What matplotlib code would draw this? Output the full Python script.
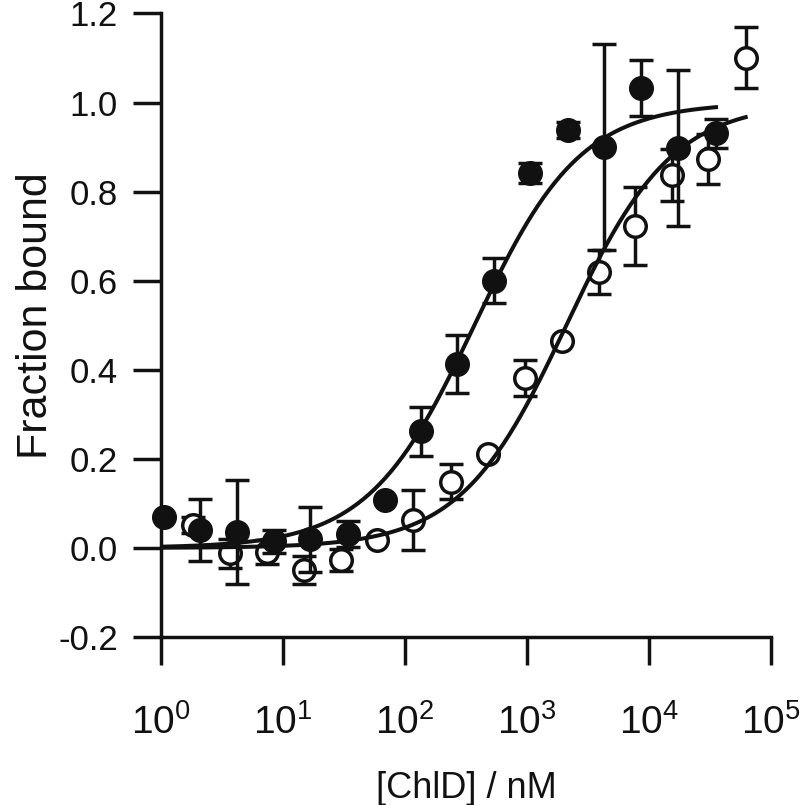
import matplotlib
matplotlib.use("Agg")
import matplotlib.pyplot as plt
from matplotlib.ticker import LogLocator, LogFormatterSciNotation, NullLocator
import numpy as np

# filled circles
conc_filled = [1.05, 2.1, 4.2, 8.4, 16.8, 34, 68.6, 134, 268, 540,
               1060, 2150, 4300, 8600, 17400, 35400]
frac_filled = [0.070, 0.040, 0.036, 0.015, 0.019, 0.031, 0.107, 0.262, 0.413, 0.600,
               0.842, 0.938, 0.900, 1.032, 0.898, 0.931]
err_filled = [0.0, 0.070, 0.117, 0.026, 0.073, 0.030, 0.0, 0.055, 0.066, 0.050,
              0.022, 0.018, 0.231, 0.063, 0.175, 0.032]

# open circles
conc_open = [1.84, 3.68, 7.35, 14.9, 29.7, 58.6, 117, 237, 476, 963,
             1924, 3892, 7680, 15350, 30600, 62000]
frac_open = [0.051, -0.012, -0.009, -0.050, -0.027, 0.017, 0.063, 0.149, 0.211, 0.381,
             0.464, 0.620, 0.723, 0.837, 0.874, 1.101]
err_open = [0.018, 0.032, 0.027, 0.032, 0.024, 0.0, 0.068, 0.040, 0.0, 0.040,
            0.0, 0.050, 0.088, 0.058, 0.056, 0.068]

# fitted dissociation constants (nM), single-site binding
KD_FILLED = 370.0
KD_OPEN = 2100.0

plt.rcParams["font.family"] = ["Liberation Sans", "DejaVu Sans"]
plt.rcParams["mathtext.fontset"] = "custom"
plt.rcParams["mathtext.rm"] = "Liberation Sans"

fig = plt.figure(figsize=(8.0, 8.05), dpi=100)
ax = fig.add_axes([161 / 800, 1 - 637 / 805, 610 / 800, 623.5 / 805])

lw = 2.5
ink = "#111111"
ebkw = dict(fmt="none", ecolor=ink, elinewidth=lw, capsize=8.5, capthick=lw,
            clip_on=False)

ax.errorbar(conc_open, frac_open, yerr=err_open, zorder=2, **ebkw)
ax.plot(conc_open, frac_open, "o", ms=15.5, mfc="white", mec=ink, mew=2.5,
        zorder=3, clip_on=False)
ax.errorbar(conc_filled, frac_filled, yerr=err_filled, zorder=4, **ebkw)
ax.plot(conc_filled, frac_filled, "o", ms=17, color=ink, zorder=5, clip_on=False)

xf = np.logspace(0, np.log10(conc_filled[-1]), 300)
ax.plot(xf, xf / (KD_FILLED + xf), color=ink, lw=2.9, zorder=6)
xo = np.logspace(0, np.log10(conc_open[-1]), 300)
ax.plot(xo, xo / (KD_OPEN + xo), color=ink, lw=2.9, zorder=6)

ax.set_xscale("log")
ax.set_xlim(1, 1e5)
ax.set_ylim(-0.2, 1.2)
ax.xaxis.set_major_locator(LogLocator(base=10, numticks=10))
ax.xaxis.set_major_formatter(LogFormatterSciNotation())
ax.xaxis.set_minor_locator(NullLocator())
ax.set_yticks(np.arange(-0.2, 1.21, 0.2))
ax.set_yticklabels(["%.1f" % v for v in np.arange(-0.2, 1.21, 0.2)])

for side in ["top", "right"]:
    ax.spines[side].set_visible(False)
for side in ["left", "bottom"]:
    ax.spines[side].set_linewidth(lw)
    ax.spines[side].set_color(ink)

ax.tick_params(axis="both", which="major", length=20, width=lw, color=ink,
               labelcolor=ink, labelsize=25, direction="out")
ax.tick_params(axis="x", pad=28, labelsize=28)
ax.tick_params(axis="y", pad=11)

ax.set_xlabel("[ChlD] / nM", fontsize=26, color=ink)
ax.set_ylabel("Fraction bound", fontsize=31, color=ink)
ax.xaxis.set_label_coords(0.5, -0.243)
ax.xaxis.label.set_va("center")
ax.yaxis.set_label_coords(-0.205, 0.515)
ax.yaxis.label.set_va("center")

fig.savefig("out.png", dpi=100)
